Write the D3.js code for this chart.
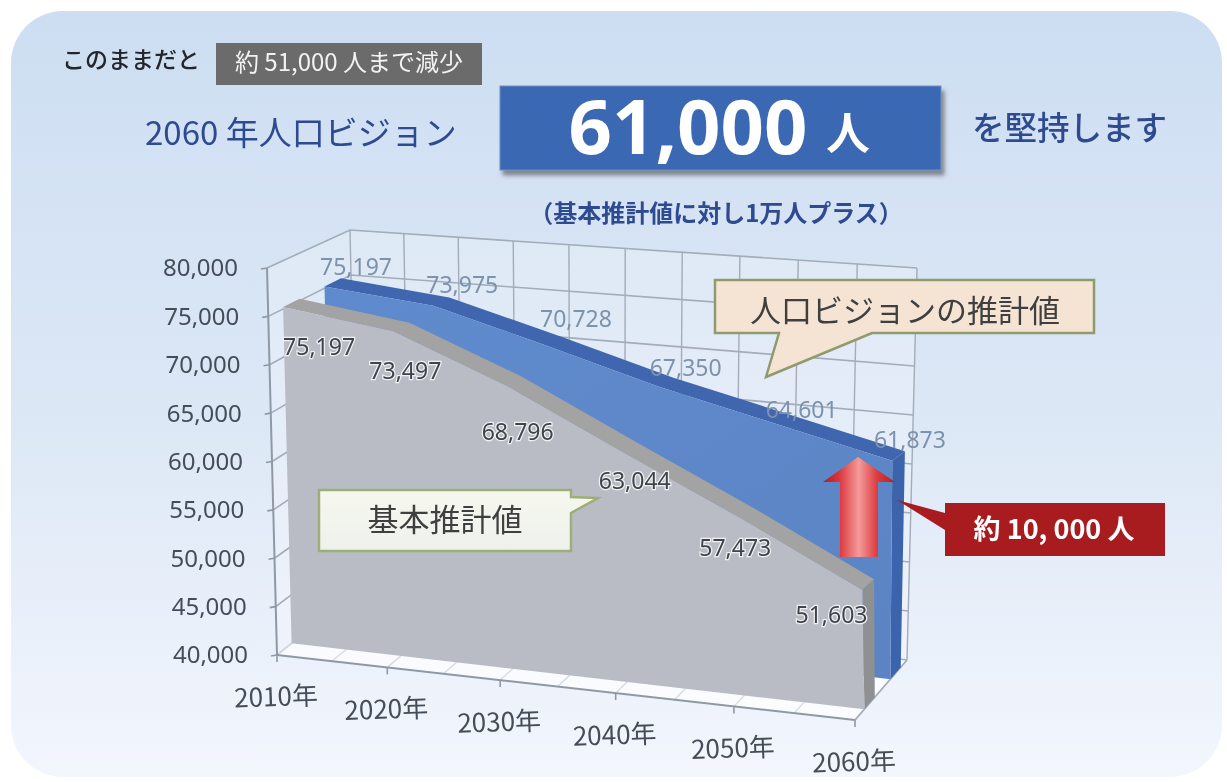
<!DOCTYPE html>
<html lang="ja">
<head>
<meta charset="utf-8">
<script src="https://cdn.jsdelivr.net/npm/d3@7/dist/d3.min.js"></script>
<style>
html,body{margin:0;padding:0;background:#fff;}
svg{display:block;filter:blur(0.6px);}
text{font-family:"Noto Sans","Noto Sans CJK JP",sans-serif;}
.jp{font-family:"Noto Sans CJK JP","Noto Sans",sans-serif;}
</style>
</head>
<body>
<div id="chart"></div>
<script>
// ---- data ----
const categories = ["2010年","2020年","2030年","2040年","2050年","2060年"];
const visionValues = [75197,73975,70728,67350,64601,61873];
const baseValues = [75197,73497,68796,63044,57473,51603];
const yTicks = [40000,45000,50000,55000,60000,65000,70000,75000,80000];

// ---- label nudges (layout only) ----
const visionLabelNudge = [[13,3],[11,2],[14,-3],[11,4],[12,10],[3,3]];
const baseLabelNudge = [[24,6],[0,6],[-1,12],[0,-5],[-18,-5],[-43,-9]];

const W = 1227, H = 782;
const svg = d3.select("#chart").append("svg").attr("width",W).attr("height",H);
const defs = svg.append("defs");

function gradient(id,x2,y2,stops){
  const g = defs.append("linearGradient").attr("id",id).attr("x1",0).attr("y1",0).attr("x2",x2).attr("y2",y2);
  stops.forEach(s=>g.append("stop").attr("offset",s[0]).attr("stop-color",s[1]));
}
gradient("bg",0,1,[[0,"#cddef2"],[0.55,"#dde8f6"],[1,"#f3f6fd"]]);
gradient("arrowFill",1,0,[[0,"#b01a20"],[0.22,"#d9363c"],[0.5,"#f59a9a"],[0.75,"#dc3c40"],[1,"#b81c20"]]);
gradient("visionFace",1,1,[[0,"#5f8bce"],[1,"#5c84c4"]]);
gradient("noteBase",0,1,[[0,"#f6f8ee"],[1,"#eef1ec"]]);
defs.append("filter").attr("id","shadow").attr("x","-5%").attr("y","-10%").attr("width","112%").attr("height","130%")
  .append("feDropShadow").attr("dx",3).attr("dy",5).attr("stdDeviation",2).attr("flood-color","#4a4a4a").attr("flood-opacity",0.6);

// panel
svg.append("rect").attr("x",11).attr("y",11).attr("width",1211).attr("height",766).attr("rx",52).attr("fill","url(#bg)");

// ---- 3D projection built from d3 scales ----
const xScale = d3.scalePoint().domain(categories).range([0,1]);
const yScale = d3.scaleLinear().domain([40000,80000]).range([0,1]);
const persp = 1.06;
const warp = t => t/(t+persp*(1-t));
const box = { // [z][y][x]
  front:{bottom:[[277,655],[855,720]],top:[[267,268],[845,305]]},
  back:{bottom:[[358,590],[907,660]],top:[[350,230],[917,268]]}
};
const mix=(a,b,k)=>[a[0]+(b[0]-a[0])*k,a[1]+(b[1]-a[1])*k];
function project(t,value,z){
  const u = warp(t), v = yScale(value);
  const f = mix(mix(box.front.bottom[0],box.front.bottom[1],u),mix(box.front.top[0],box.front.top[1],u),v);
  const b = mix(mix(box.back.bottom[0],box.back.bottom[1],u),mix(box.back.top[0],box.back.top[1],u),v);
  return mix(f,b,z);
}
const path = d3.line();
const tOf = c => xScale(c);
const last = categories.length-1;
const yMin = yScale.domain()[0], yMax = yScale.domain()[1];

const walls = svg.append("g");
// back wall + floor + left wall fills
walls.append("path").attr("d",path([project(0,yMin,1),project(1,yMin,1),project(1,yMax,1),project(0,yMax,1)])+"Z").attr("fill","#ffffff").attr("opacity",0.22);
walls.append("path").attr("d",path([project(0,yMin,0),project(0,yMax,0),project(0,yMax,1),project(0,yMin,1)])+"Z").attr("fill","#ffffff").attr("opacity",0.22);
walls.append("path").attr("d",path([project(0,yMin,0),project(1,yMin,0),project(1,yMin,1),project(0,yMin,1)])+"Z").attr("fill","#ffffff").attr("opacity",0.7);
const gridColor="#a3acb8";
// horizontal grid lines on back and left walls
yTicks.forEach(v=>{
  walls.append("path").attr("d",path([project(0,v,0),project(0,v,1),project(1,v,1)])).attr("fill","none").attr("stroke",gridColor).attr("stroke-width",1.6);
});
// vertical grid lines on the back wall, floor lines
d3.range(0,11).forEach(i=>{
  const t=i/10;
  walls.append("path").attr("d",path([project(t,yMin,1),project(t,yMax,1)])).attr("fill","none").attr("stroke",gridColor).attr("stroke-width",1.4);
  walls.append("path").attr("d",path([project(t,yMin,0),project(t,yMin,1)])).attr("fill","none").attr("stroke","#d5dce6").attr("stroke-width",1.4);
});
// right edge of floor
walls.append("path").attr("d",path([project(1,yMin,0),project(1,yMin,1)])).attr("fill","none").attr("stroke",gridColor).attr("stroke-width",1.6);

// extruded area series
function area3d(values,z0,z1,colors){
  const g = svg.append("g");
  const topFront = categories.map((c,i)=>project(tOf(c),values[i],z0));
  const topBack = categories.map((c,i)=>project(tOf(c),values[i],z1));
  // top strip
  g.append("path").attr("d",path(topFront.concat(topBack.slice().reverse()))+"Z").attr("fill",colors.top);
  // side
  g.append("path").attr("d",path([project(1,values[last],z0),project(1,values[last],z1),project(1,yMin,z1),project(1,yMin,z0)])+"Z").attr("fill",colors.side);
  // face
  g.append("path").attr("d",path(topFront.concat([project(1,yMin,z0),project(0,yMin,z0)]))+"Z").attr("fill",colors.face);
}
const zVision=[0.68,0.88], zBase=[0.18,0.38];
area3d(visionValues,zVision[0],zVision[1],{top:"#3f66ae",side:"#3c64ac",face:"url(#visionFace)"});
area3d(baseValues,zBase[0],zBase[1],{top:"#a3a3a4",side:"#8e9091",face:"#b9bcc4"});

// front axes
const axes = svg.append("g");
const axisColor="#8f99a5";
axes.append("path").attr("d",path([project(0,yMax,0),project(0,yMin,0)])).attr("fill","none").attr("stroke",axisColor).attr("stroke-width",2);
axes.append("path").attr("d",path([project(0,yMin,0),project(1,yMin,0)])).attr("fill","none").attr("stroke",axisColor).attr("stroke-width",2);
const textColor="#454d59";
yTicks.forEach(v=>{
  const p=project(0,v,0);
  axes.append("line").attr("x1",p[0]-6).attr("x2",p[0]).attr("y1",p[1]+1).attr("y2",p[1]).attr("stroke",axisColor).attr("stroke-width",1.6);
  axes.append("text").attr("x",p[0]-29).attr("y",p[1]).attr("dy","0.35em").attr("text-anchor","end")
    .attr("font-size",24).attr("fill",textColor).text(d3.format(",")(v));
});
categories.forEach(c=>{
  const p=project(tOf(c),yMin,0);
  axes.append("line").attr("x1",p[0]).attr("x2",p[0]).attr("y1",p[1]).attr("y2",p[1]+7).attr("stroke",axisColor).attr("stroke-width",1.6);
  axes.append("text").attr("class","jp").attr("transform",`translate(${p[0]-1},${p[1]+42}) rotate(-2)`).attr("dy","0.35em").attr("text-anchor","middle")
    .attr("font-size",26).attr("fill",textColor).text(c);
});

// callout: vision
const visionNote = svg.append("g");
visionNote.append("path").attr("d","M715,280H1094V333H872L766,377L779,333H715Z").attr("fill","#f5e4d4").attr("stroke","#8f9a6e").attr("stroke-width",2.5);
visionNote.append("text").attr("class","jp").attr("x",905).attr("y",311).attr("dy","0.35em").attr("text-anchor","middle").attr("font-size",31).attr("fill","#3f3f3f").text("人口ビジョンの推計値");

// data labels
const visionLabels = svg.append("g");
visionValues.forEach((v,i)=>{
  const p=project(tOf(categories[i]),v,zVision[1]);
  visionLabels.append("text").attr("x",p[0]+visionLabelNudge[i][0]+2).attr("y",p[1]+visionLabelNudge[i][1]-14).attr("dy","0.35em").attr("text-anchor","middle")
    .attr("font-size",23).attr("fill","#7d92ab").text(d3.format(",")(v));
});
const baseLabels = svg.append("g");
baseValues.forEach((v,i)=>{
  const p=project(tOf(categories[i]),v,zBase[0]);
  baseLabels.append("text").attr("x",p[0]+baseLabelNudge[i][0]+12).attr("y",p[1]+baseLabelNudge[i][1]+34).attr("dy","0.35em").attr("text-anchor","middle")
    .attr("font-size",23).attr("fill","#3f444c").attr("stroke","#eef0f2").attr("stroke-width",2.5).attr("paint-order","stroke").text(d3.format(",")(v));
});

// callout: base
const baseNote = svg.append("g");
baseNote.append("path").attr("d","M319,490H571V497L598,498L571,513V551H319Z").attr("fill","url(#noteBase)").attr("stroke","#9dae76").attr("stroke-width",2.5);
baseNote.append("text").attr("class","jp").attr("x",445).attr("y",520).attr("dy","0.35em").attr("text-anchor","middle").attr("font-size",31).attr("fill","#3f3f3f").text("基本推計値");

// increase arrow
svg.append("path").attr("d","M858,457L895,482H878V557H840V482H823Z").attr("fill","url(#arrowFill)");

// red callout
const redNote = svg.append("g");
redNote.append("path").attr("d","M945,503H1165V556H945V530L897,500L945,513Z").attr("fill","#a81c20");
redNote.append("text").attr("class","jp").attr("x",1054).attr("y",530).attr("dy","0.35em").attr("text-anchor","middle").attr("font-size",27).attr("font-weight",700).attr("fill","#ffffff").text("約 10, 000 人");

// header
const header = svg.append("g");
header.append("text").attr("class","jp").attr("x",62).attr("y",60).attr("dy","0.35em").attr("font-size",23).attr("font-weight",500).attr("fill","#23262c").text("このままだと");
header.append("rect").attr("x",216).attr("y",43).attr("width",266).attr("height",42).attr("fill","#6b6b6b");
header.append("text").attr("class","jp").attr("x",349).attr("y",63).attr("dy","0.35em").attr("text-anchor","middle").attr("font-size",24).attr("fill","#f2f2f2").text("約 51,000 人まで減少");
header.append("text").attr("class","jp").attr("x",145).attr("y",133).attr("dy","0.35em").attr("font-size",33).attr("fill","#2f4b90").text("2060 年人口ビジョン");
header.append("rect").attr("x",500).attr("y",86).attr("width",441).attr("height",84).attr("fill","#3b68b2").attr("stroke","#6f8fc0").attr("stroke-width",1).attr("filter","url(#shadow)");
header.append("text").attr("x",688).attr("y",127).attr("dy","0.35em").attr("text-anchor","middle").attr("font-size",76).attr("font-weight",700).attr("fill","#ffffff").text("61,000");
header.append("text").attr("class","jp").attr("x",848).attr("y",135).attr("dy","0.35em").attr("text-anchor","middle").attr("font-size",44).attr("font-weight",700).attr("fill","#ffffff").text("人");
header.append("text").attr("class","jp").attr("x",972).attr("y",129).attr("dy","0.35em").attr("font-size",32.5).attr("font-weight",500).attr("fill","#2f4b90").text("を堅持します");
header.append("text").attr("class","jp").attr("x",716).attr("y",214).attr("dy","0.35em").attr("text-anchor","middle").attr("font-size",24).attr("font-weight",700).attr("fill","#2f4b90").text("（基本推計値に対し1万人プラス）");
</script>
</body>
</html>
